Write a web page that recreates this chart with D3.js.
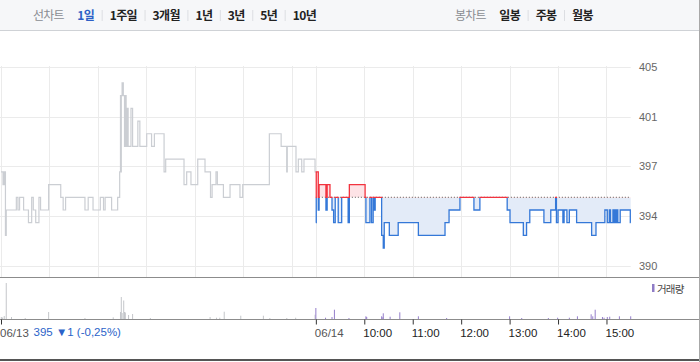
<!DOCTYPE html>
<html>
<head>
<meta charset="utf-8">
<script src="https://cdnjs.cloudflare.com/ajax/libs/d3/7.8.5/d3.min.js"></script>
<style>
  body { margin: 0; background: #fff; }
  svg { display: block; }
  .kr { font-family: "Noto Sans CJK KR", "Noto Sans", sans-serif; }
  .num { font-family: "Liberation Sans", Arial, sans-serif; }
</style>
</head>
<body>
<svg id="chart" width="700" height="362"></svg>
<script>
// tabs
const lineTabs = ['1일', '1주일', '3개월', '1년', '3년', '5년', '10년'];
const candleTabs = ['일봉', '주봉', '월봉'];

// previous close (baseline for day 2)
const prevClose = 395;

// day 1 (06/13): minutes after 09:00, price (step changes)
const day1Min = [0, 2.5, 4, 5.5, 6.5, 19, 21, 23, 28, 34, 38, 40, 43, 47, 49, 59, 74, 77, 80, 104,
  108, 114, 123, 127, 129, 137, 144.5, 147, 148, 148.5, 149, 150, 151.5, 153, 154, 155, 156, 157.5, 161, 163,
  169.5, 172, 180.5, 186.5, 190, 202, 204, 226.7, 230, 235.3, 243.7, 252.7, 259.5, 261.5, 266.3, 268, 275.5, 283.7, 296, 299.4,
  332.4, 347, 353.9, 354.6, 365.4, 368.3, 372.5, 375.3, 389, 390];
const day1Price = [397, 396, 397, 392, 394, 395, 394, 395, 394, 393, 395, 394, 393, 395, 394, 396, 395, 394, 395, 394,
  395, 394, 395, 394, 395, 394, 395, 397, 403, 397, 403, 404, 403, 399, 403, 399, 402, 399, 402, 399,
  401, 399, 400, 399, 400, 397, 398, 396, 397, 396, 398, 397, 395, 396, 397, 396, 395, 396, 395, 396,
  400, 399, 397, 399, 397, 398, 397, 398, 397, 397];

// day 2 (06/14)
const day2Min = [0, 0.5, 3, 4, 12.5, 14, 17.5, 20, 22, 24, 27.7, 32, 40, 41.5, 61, 62, 67, 69, 71, 72,
  73.5, 81.5, 83.5, 84.7, 91, 102, 127, 160, 165, 178.5, 195.8, 203.2, 237, 240.5, 257, 261, 265, 282.5, 291, 297,
  298, 300, 306, 307.5, 311, 314, 323, 341.6, 347, 358, 361, 363.5, 365, 368, 369.5, 370.5, 371.5, 373, 374, 377,
  389.5, 390];
const day2Price = [393, 397, 394, 396, 394, 396, 395, 394, 393, 395, 393, 395, 393, 396, 395, 393, 395, 393, 395, 394,
  395, 392, 391, 393, 392, 393, 392, 393, 394, 395, 394, 395, 394, 393, 392, 393, 394, 393, 394, 395,
  393, 394, 393, 394, 393, 394, 393, 392, 393, 394, 393, 394, 393, 394, 393, 394, 393, 394, 393, 394,
  393, 393];

// volume (thousand shares)
const vol1Min = [0.4, 2, 4, 6.5, 13, 30, 59, 104, 139, 148, 149, 150, 152, 153, 154, 158, 163, 185, 259, 267,
  271, 276.5, 297, 325, 333, 354, 365, 389];
const vol1Val = [2, 1.5, 3, 36, 2, 1, 7, 1, 1.7, 7, 22, 6, 18.5, 7, 6.5, 4, 5, 1, 2, 1.3,
  1.3, 7.3, 3.3, 3.3, 1, 1, 1.3, 4.3];
const vol2Min = [0, 12, 20, 23, 41, 62, 63, 81.5, 83, 83.5, 92, 104, 127, 162, 240, 255, 288, 299.5, 314, 324,
  341, 343, 346, 355, 357, 361, 364, 376, 390];
const vol2Val = [11, 1.3, 2, 9.3, 1, 2.7, 2, 2.7, 1.7, 5.7, 2.3, 6.7, 2.7, 1, 2.7, 1, 1, 1.3, 1.3, 2.7,
  4.7, 2.7, 9.3, 2, 1.3, 2, 2.3, 2.7, 2.7];

const priceTickLabels = ['390', '394', '397', '401', '405'];
const dateLabels = ['06/13', '06/14'];
const hourLabels = ['10:00', '11:00', '12:00', '13:00', '14:00', '15:00'];
const changeLabel = '395 ▼1 (-0,25%)';
const volLegend = '거래량';

const SESSION = 390; // minutes per trading day
const svg = d3.select('#chart');

const x = d3.scaleLinear().domain([0, SESSION * 2]).range([1, 630.7]);
const y = d3.scaleLinear().domain([389.59, 405.28]).range([266, 66.7]);
const yVol = d3.scaleLinear().domain([0, 36]).range([319, 283]);

const day1 = day1Min.map((m, i) => ({ t: m, p: day1Price[i] }));
const day2 = day2Min.map((m, i) => ({ t: m + SESSION, p: day2Price[i] }));
const yBase = y(prevClose);

// ---- top bar
const bar = svg.append('g');
bar.append('rect').attr('x', 0).attr('y', 0).attr('width', 700).attr('height', 30).attr('fill', '#f6f7f9');
bar.append('line').attr('x1', 0).attr('x2', 700).attr('y1', 30.5).attr('y2', 30.5).attr('stroke', '#cfd2d6');

function tabGroup(title, items, startX, activeIdx) {
  let cx = startX;
  const t = bar.append('text').attr('class', 'kr').attr('x', cx).attr('y', 19.5)
    .attr('font-size', 12).attr('letter-spacing', -0.8).attr('fill', '#8a8d92').text(title);
  cx += t.node().getComputedTextLength() + 13.5;
  items.forEach((s, i) => {
    if (i > 0) {
      bar.append('line').attr('x1', cx + 8).attr('x2', cx + 8).attr('y1', 10).attr('y2', 21)
        .attr('stroke', '#dcdee2');
      cx += 15.5;
    }
    const el = bar.append('text').attr('class', 'kr').attr('x', cx).attr('y', 19.5)
      .attr('font-size', 12).attr('font-weight', 'bold').attr('letter-spacing', -0.6)
      .attr('fill', i === activeIdx ? '#2d5fc6' : '#222').text(s);
    cx += el.node().getComputedTextLength();
  });
}
tabGroup('선차트', lineTabs, 33, 0);
tabGroup('봉차트', candleTabs, 455, -1);

// ---- grid
const grid = svg.append('g');
const tickVals = d3.range(5).map(i => y.domain()[0] + i * (y.domain()[1] - y.domain()[0]) / 4);
grid.selectAll('line.h').data(tickVals).join('line')
  .attr('x1', 0).attr('x2', x(SESSION * 2))
  .attr('y1', d => Math.round(y(d)) + 0.5).attr('y2', d => Math.round(y(d)) + 0.5)
  .attr('stroke', '#ebebeb');
const vTicks = d3.range(0, SESSION * 2, 60).filter(d => d <= 360).concat([SESSION], d3.range(SESSION + 60, SESSION * 2, 60));
grid.selectAll('line.v').data(vTicks).join('line')
  .attr('x1', d => Math.round(x(d)) + 0.5).attr('x2', d => Math.round(x(d)) + 0.5)
  .attr('y1', 66).attr('y2', 277)
  .attr('stroke', '#ebebeb');

svg.append('g').selectAll('text').data(tickVals).join('text')
  .attr('class', 'num').attr('x', 639).attr('y', d => y(d) + 4)
  .attr('font-size', 11).attr('fill', '#666')
  .text((d, i) => priceTickLabels[i]);

// ---- day 2 fills
const defs = svg.append('defs');
defs.append('clipPath').attr('id', 'clipUp').append('rect')
  .attr('x', 0).attr('y', 0).attr('width', 700).attr('height', yBase + 0.8);
defs.append('clipPath').attr('id', 'clipDown').append('rect')
  .attr('x', 0).attr('y', yBase + 0.8).attr('width', 700).attr('height', 300);

const area = d3.area().curve(d3.curveStepAfter)
  .x(d => x(d.t)).y0(yBase).y1(d => y(d.p));
const line = d3.line().curve(d3.curveStepAfter)
  .x(d => x(d.t)).y(d => y(d.p));

svg.append('path').datum(day2).attr('d', area).attr('fill', '#fde3e6').attr('clip-path', 'url(#clipUp)');
svg.append('path').datum(day2).attr('d', area).attr('fill', '#e3ebf8').attr('clip-path', 'url(#clipDown)');

// previous close dotted line
svg.append('line')
  .attr('x1', x(SESSION)).attr('x2', x(SESSION * 2))
  .attr('y1', yBase).attr('y2', yBase)
  .attr('stroke', '#555').attr('stroke-dasharray', '1,2');

// ---- lines
svg.append('path').datum(day1).attr('d', line)
  .attr('fill', 'none').attr('stroke', '#cbced3').attr('stroke-width', 1.2);
svg.append('path').datum(day2).attr('d', line)
  .attr('fill', 'none').attr('stroke', '#f2333f').attr('stroke-width', 1.3).attr('clip-path', 'url(#clipUp)');
svg.append('path').datum(day2).attr('d', line)
  .attr('fill', 'none').attr('stroke', '#3478d8').attr('stroke-width', 1.3).attr('clip-path', 'url(#clipDown)');

// panel separators
svg.append('line').attr('x1', 0).attr('x2', 700).attr('y1', 277.5).attr('y2', 277.5).attr('stroke', '#8c8c8c');

// ---- volume
const v1 = vol1Min.map((m, i) => ({ t: m, v: vol1Val[i] }));
const v2 = vol2Min.map((m, i) => ({ t: m + SESSION, v: vol2Val[i] }));
svg.append('g').selectAll('rect').data(v1).join('rect')
  .attr('x', d => x(d.t) - 0.5).attr('width', 1)
  .attr('y', d => yVol(d.v)).attr('height', d => yVol(0) - yVol(d.v))
  .attr('fill', '#c4c6ca');
svg.append('g').selectAll('rect').data(v2).join('rect')
  .attr('x', d => x(d.t) - 0.5).attr('width', 1)
  .attr('y', d => yVol(d.v)).attr('height', d => yVol(0) - yVol(d.v))
  .attr('fill', '#957fcb');

svg.append('rect').attr('x', 652).attr('y', 284).attr('width', 2.5).attr('height', 8).attr('fill', '#8f7cc6');
svg.append('text').attr('class', 'kr').attr('x', 657).attr('y', 292.5)
  .attr('font-size', 10.5).attr('letter-spacing', -0.8).attr('fill', '#444').text(volLegend);

// ---- x axis
svg.append('line').attr('x1', 0).attr('x2', 700).attr('y1', 319.5).attr('y2', 319.5).attr('stroke', '#8c8c8c');
const axisTicks = [0, SESSION].concat(d3.range(SESSION + 60, SESSION * 2, 60));
const axisLabels = dateLabels.concat(hourLabels);
const ax = svg.append('g').attr('transform', 'translate(0,319.5)')
  .call(d3.axisBottom(x).tickValues(axisTicks).tickSize(5).tickFormat((d, i) => axisLabels[i]));
ax.select('.domain').remove();
ax.selectAll('.tick line').attr('stroke', '#333');
ax.selectAll('.tick text')
  .attr('class', 'num').attr('text-anchor', 'start').attr('dx', -1.5).attr('y', 9)
  .attr('font-size', 11.5)
  .attr('fill', (d, i) => i < 2 ? '#555' : '#222');

svg.append('text').attr('class', 'num').attr('x', 33.5).attr('y', 335.5)
  .attr('font-size', 11.5).attr('fill', '#2b63c9').text(changeLabel);

// borders
svg.append('line').attr('x1', 0).attr('x2', 700).attr('y1', 360).attr('y2', 360).attr('stroke', '#555').attr('stroke-width', 2);
svg.append('line').attr('x1', 699.5).attr('x2', 699.5).attr('y1', 0).attr('y2', 362).attr('stroke', '#a8a8a8');
</script>
</body>
</html>
